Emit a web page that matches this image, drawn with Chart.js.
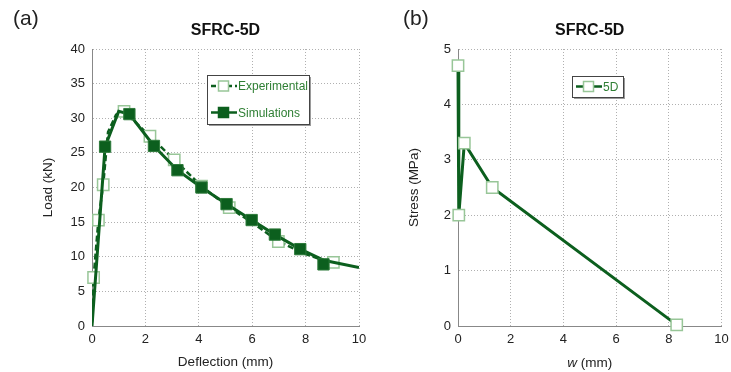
<!DOCTYPE html>
<html>
<head>
<meta charset="utf-8">
<script src="https://cdn.jsdelivr.net/npm/chart.js@4"></script>
<style>
  body { margin: 0; background: #fff; width: 731px; height: 372px; overflow: hidden; position: relative; }
  .panel { position: absolute; top: 0; height: 372px; }
</style>
</head>
<body>
<div class="panel" style="left:0;width:370px"><canvas id="left"></canvas></div>
<div class="panel" style="left:366px;width:365px"><canvas id="right"></canvas></div>
<script>
// (a) load vs deflection
const expCurveX = [0, 0.06, 0.24, 0.42, 0.6, 0.9, 1.2, 2.17, 3.08, 4.1, 5.14, 6.05, 6.98, 8.0, 9.04];
const expCurveY = [0.5, 7.0, 15.3, 20.4, 28.0, 30.5, 31.0, 27.4, 24.0, 20.2, 17.1, 14.8, 12.2, 10.4, 9.0];
const expMarkX = [0.06, 0.24, 0.42, 1.2, 2.17, 3.08, 4.1, 5.14, 6.98, 9.04];
const expMarkY = [7.0, 15.3, 20.4, 31.0, 27.4, 24.0, 20.2, 17.1, 12.2, 9.2];

const simCurveX = [0, 0.49, 1.0, 1.4, 2.32, 3.2, 4.1, 5.04, 5.98, 6.85, 7.8, 8.67, 10];
const simCurveY = [0, 25.9, 31.0, 30.6, 26.0, 22.5, 20.0, 17.6, 15.3, 13.2, 11.1, 9.5, 8.45];
const simMarkX = [0.49, 1.4, 2.32, 3.2, 4.1, 5.04, 5.98, 6.85, 7.8, 8.67];
const simMarkY = [25.9, 30.6, 26.0, 22.5, 20.0, 17.6, 15.3, 13.2, 11.1, 8.9];

// (b) stress vs crack opening w
const wValues = [0, 0.03, 0.24, 1.3, 8.3];
const stressValues = [4.7, 2.0, 3.3, 2.5, 0.02];

const DARK = '#0c5f1e';
const LIGHT = '#98c698';
const LEGEND_TEXT = '#2f7f34';
const FONT = '"Liberation Sans", Arial, sans-serif';

const pts = (xs, ys) => xs.map((x, i) => ({x: x, y: ys[i]}));

function scales(yMax, yStep, xTitle, yTitle) {
  return {
    x: {
      type: 'linear', min: 0, max: 10,
      ticks: { stepSize: 2, color: '#222', font: {family: FONT, size: 13}, padding: 6 },
      grid: { color: '#b0b0b0', drawTicks: false },
      border: { display: true, color: '#888', dash: [1, 2] },
      title: { display: !!xTitle, text: xTitle, color: '#222', font: {family: FONT, size: 13.5}, padding: {top: 0, bottom: 2} },
      afterFit: s => { s.height = 46; s.paddingLeft = 0; s.paddingRight = 0; }
    },
    y: {
      type: 'linear', min: 0, max: yMax,
      ticks: { stepSize: yStep, color: '#222', font: {family: FONT, size: 13}, padding: 7 },
      grid: { color: '#b0b0b0', drawTicks: false },
      border: { display: true, color: '#888', dash: [1, 2] },
      title: { display: true, text: yTitle, color: '#222', font: {family: FONT, size: 13.5}, padding: {top: 4, bottom: 0} },
      afterFit: s => { s.width = 56; s.paddingTop = 0; s.paddingBottom = 0; }
    }
  };
}

function drawMarker(ctx, x, y, filled) {
  ctx.fillStyle = filled ? DARK : '#fff';
  ctx.strokeStyle = filled ? DARK : LIGHT;
  ctx.lineWidth = 1.5;
  ctx.fillRect(x - 5, y - 5, 10, 10);
  ctx.strokeRect(x - 5, y - 5, 10, 10);
}

// titles, panel letters, boxed legend inside the plot
const decor = {
  id: 'decor',
  afterDraw(chart, args, o) {
    const {ctx, chartArea} = chart;
    ctx.save();
    ctx.fillStyle = '#111';
    ctx.textBaseline = 'middle';
    ctx.textAlign = 'center';
    ctx.font = 'bold 16px ' + FONT;
    ctx.fillText(o.title, (chartArea.left + chartArea.right) / 2, 31);
    ctx.textAlign = 'left';
    ctx.font = '21px ' + FONT;
    ctx.fillStyle = '#222';
    ctx.fillText(o.panel, o.panelX, 19);

    if (o.xLabel) {
      // italic variable followed by unit
      ctx.font = 'italic 13.5px ' + FONT;
      const w1 = ctx.measureText(o.xLabel[0]).width;
      ctx.font = '13.5px ' + FONT;
      const w2 = ctx.measureText(o.xLabel[1]).width;
      let x = (chartArea.left + chartArea.right) / 2 - (w1 + w2) / 2;
      ctx.font = 'italic 13.5px ' + FONT;
      ctx.fillText(o.xLabel[0], x, 363);
      ctx.font = '13.5px ' + FONT;
      ctx.fillText(o.xLabel[1], x + w1, 363);
    }

    const b = o.box;
    ctx.fillStyle = '#9a9a9a';
    ctx.fillRect(b.x + 2, b.y + 2, b.w, b.h);
    ctx.fillStyle = '#fff';
    ctx.fillRect(b.x, b.y, b.w, b.h);
    ctx.strokeStyle = '#444';
    ctx.lineWidth = 1;
    ctx.strokeRect(b.x + 0.5, b.y + 0.5, b.w, b.h);
    o.items.forEach(it => {
      ctx.strokeStyle = DARK;
      ctx.lineWidth = 2.5;
      ctx.setLineDash(it.dashed ? [5, 3] : []);
      ctx.beginPath();
      ctx.moveTo(b.x + 4, it.y);
      ctx.lineTo(b.x + 30, it.y);
      ctx.stroke();
      ctx.setLineDash([]);
      drawMarker(ctx, b.x + 16.5, it.y, it.filled);
      ctx.fillStyle = LEGEND_TEXT;
      ctx.font = '12px ' + FONT;
      ctx.fillText(it.label, b.x + 31, it.y + 1);
    });
    ctx.restore();
  }
};

const common = {
  responsive: true,
  maintainAspectRatio: false,
  animation: false,
  devicePixelRatio: 1,
  events: []
};

new Chart(document.getElementById('left'), {
  type: 'scatter',
  data: {
    datasets: [
      { label: 'Experimental', data: pts(expCurveX, expCurveY), showLine: true, borderColor: DARK,
        borderWidth: 2.5, borderDash: [6, 3], pointRadius: 0, order: 4 },
      { data: pts(expMarkX, expMarkY), showLine: false, pointStyle: 'rect', pointRadius: 8,
        pointBackgroundColor: '#fff', pointBorderColor: LIGHT, pointBorderWidth: 1.5, clip: false, order: 3 },
      { label: 'Simulations', data: pts(simCurveX, simCurveY), showLine: true, borderColor: DARK,
        borderWidth: 3, pointRadius: 0, order: 2 },
      { data: pts(simMarkX, simMarkY), showLine: false, pointStyle: 'rect', pointRadius: 8,
        pointBackgroundColor: DARK, pointBorderColor: '#2d7a3a', pointBorderWidth: 1, clip: false, order: 1 }
    ]
  },
  options: Object.assign({}, common, {
    layout: { padding: { left: 36, top: 49, right: 11, bottom: 0 } },
    scales: scales(40, 5, 'Deflection (mm)', 'Load (kN)'),
    plugins: {
      legend: { display: false },
      tooltip: { enabled: false },
      decor: {
        title: 'SFRC-5D', panel: '(a)', panelX: 13,
        box: { x: 207, y: 75, w: 102, h: 49 },
        items: [
          { label: 'Experimental', y: 86, dashed: true, filled: false },
          { label: 'Simulations', y: 112.5, dashed: false, filled: true }
        ]
      }
    }
  }),
  plugins: [decor]
});

new Chart(document.getElementById('right'), {
  type: 'scatter',
  data: {
    datasets: [
      { label: '5D', data: pts(wValues, stressValues), showLine: true, borderColor: DARK, borderWidth: 3,
        pointStyle: 'rect', pointRadius: 8, pointBackgroundColor: '#fff', pointBorderColor: LIGHT,
        pointBorderWidth: 1.5, clip: false }
    ]
  },
  options: Object.assign({}, common, {
    layout: { padding: { left: 36, top: 49, right: 6, bottom: 0 } },
    scales: scales(5, 1, '', 'Stress (MPa)'),
    plugins: {
      legend: { display: false },
      tooltip: { enabled: false },
      decor: {
        title: 'SFRC-5D', panel: '(b)', panelX: 37,
        xLabel: ['w', ' (mm)'],
        box: { x: 206, y: 76, w: 51, h: 21 },
        items: [ { label: '5D', y: 86.5, dashed: false, filled: false } ]
      }
    }
  }),
  plugins: [decor]
});
</script>
</body>
</html>
